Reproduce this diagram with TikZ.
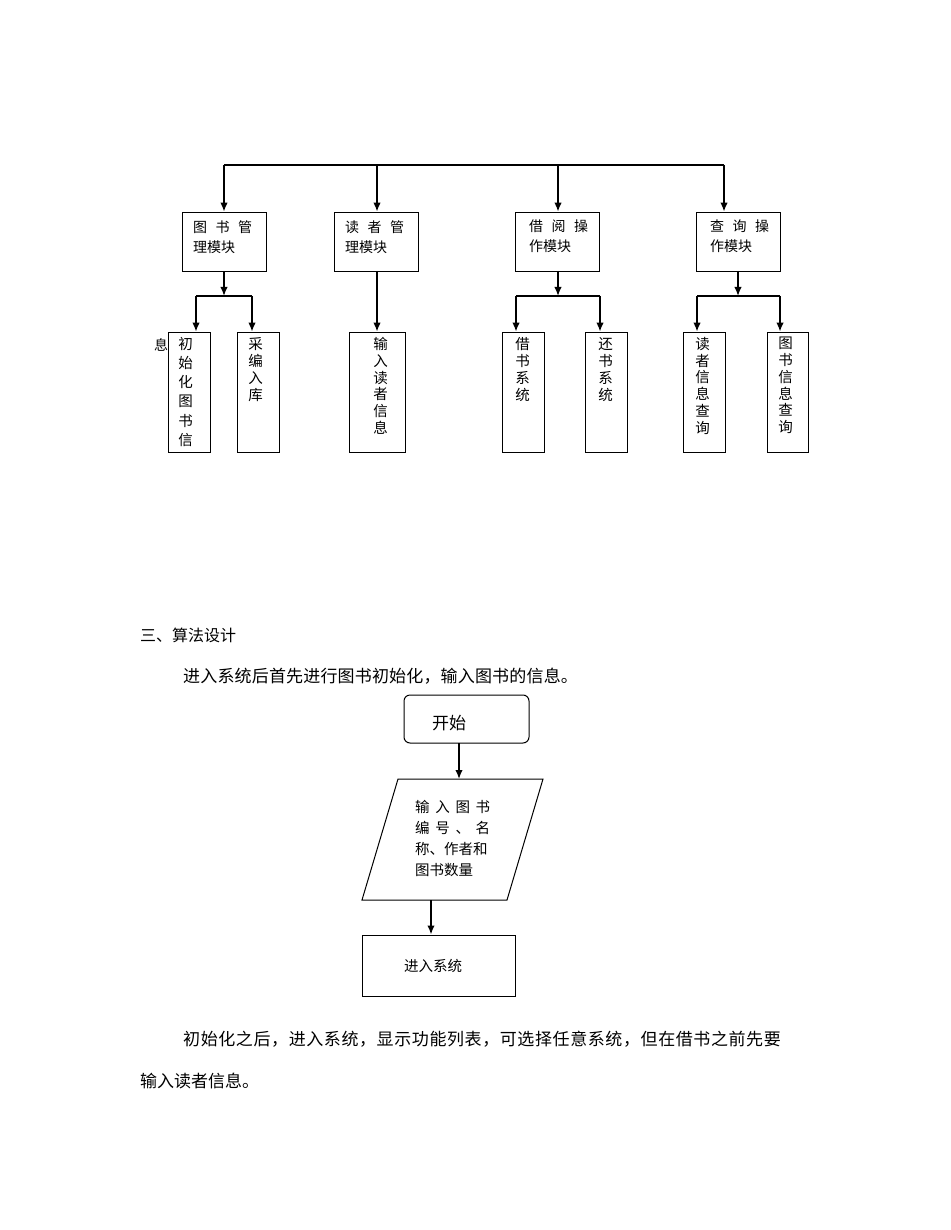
\documentclass[tikz,border=0pt]{standalone}
\usepackage{fontspec}
\setmainfont{Noto Sans CJK SC}
\usetikzlibrary{arrows.meta}
\begin{document}
\begin{tikzpicture}[x=1pt,y=-1pt,
  conn/.style={line width=1.6pt,-{Latex[length=9pt,width=7.5pt]}},
  bar/.style={line width=1.6pt},
  box/.style={draw,line width=0.8pt,inner sep=0pt},
  topbox/.style={box,minimum width=84pt,minimum height=59pt},
  leaf/.style={box,minimum width=42pt,minimum height=120pt},
  htxt/.style={inner sep=0pt,anchor=north west,align=left,font=\fontsize{14}{20}\selectfont},
  vtxt/.style={inner sep=0pt,anchor=north,align=center,font=\fontsize{14.5}{#1}\selectfont},
  para/.style={inner sep=0pt,anchor=west,font=\fontsize{17}{20}\selectfont},
  flow/.style={draw,line width=1pt,inner sep=0pt}]
\useasboundingbox (0,0) rectangle (950,1230);

% ---------- module tree ----------
\coordinate (barL) at (224,165);
\coordinate (barR) at (724,165);
\draw[bar] (barL) -- (barR);

\node[topbox] (m1) at (224,241.5) {};
\node[topbox] (m2) at (376.5,241.5) {};
\node[topbox] (m3) at (557.5,241.5) {};
\node[topbox] (m4) at (738.5,241.5) {};

\node[htxt] (t1) at (193,220) {\makebox[59pt][s]{图\hfill 书\hfill 管}\\理模块};
\node[htxt] (t2) at (345,220) {\makebox[59pt][s]{读\hfill 者\hfill 管}\\理模块};
\node[htxt] (t3) at (529,220) {\makebox[59pt][s]{借\hfill 阅\hfill 操}\\作模块};
\node[htxt] (t4) at (710,220) {\makebox[59pt][s]{查\hfill 询\hfill 操}\\作模块};

\coordinate (a2) at (377,165);
\coordinate (a3) at (558,165);
\draw[conn] (barL) -- (m1.north);
\draw[conn] (a2) -- (a2 |- m2.north);
\draw[conn] (a3) -- (a3 |- m3.north);
\draw[conn] (barR) -- (barR |- m4.north);

\node[leaf] (b1) at (189,392) {};
\node[leaf] (b2) at (258,392) {};
\node[leaf,minimum width=56pt] (b3) at (377,392) {};
\node[leaf] (b4) at (523,392) {};
\node[leaf] (b5) at (606,392) {};
\node[leaf] (b6) at (704,392) {};
\node[leaf,minimum width=41pt] (b7) at (787.5,392) {};

% junctions
\coordinate (j1) at (224,296);
\coordinate (j1l) at (196,296);
\coordinate (j1r) at (252,296);
\draw[conn] (m1.south) -- (j1);
\draw[bar] (j1l) -- (j1r);
\draw[conn] (j1l) -- (j1l |- b1.north);
\draw[conn] (j1r) -- (j1r |- b2.north);

\coordinate (s2) at (377,271);
\draw[conn] (s2) -- (s2 |- b3.north);

\coordinate (s3) at (558,271);
\coordinate (j3) at (558,296);
\coordinate (j3l) at (516,296);
\coordinate (j3r) at (600,296);
\draw[conn] (s3) -- (j3);
\draw[bar] (j3l) -- (j3r);
\draw[conn] (j3l) -- (j3l |- b4.north);
\draw[conn] (j3r) -- (j3r |- b5.north);

\coordinate (s4) at (738,271);
\coordinate (j4) at (738,296);
\coordinate (j4l) at (697,296);
\coordinate (j4r) at (780,296);
\draw[conn] (s4) -- (j4);
\draw[bar] (j4l) -- (j4r);
\draw[conn] (j4l) -- (j4l |- b6.north);
\draw[conn] (j4r) -- (j4r |- b7.north);

\node[vtxt=19.2] (v1) at (185.5,337) {初\\始\\化\\图\\书\\信};
\node[vtxt=17] (v2) at (255.5,337) {采\\编\\入\\库};
\node[vtxt=16.8] (v3) at (380.5,337) {输\\入\\读\\者\\信\\息};
\node[vtxt=17] (v4) at (522.5,337) {借\\书\\系\\统};
\node[vtxt=17] (v5) at (605.5,337) {还\\书\\系\\统};
\node[vtxt=16.8] (v6) at (702.5,337) {读\\者\\信\\息\\查\\询};
\node[vtxt=16.8] (v7) at (785.5,337) {图\\书\\信\\息\\查\\询};
\node[inner sep=0pt,font=\fontsize{14}{16}\selectfont] (xi) at (161,345) {息};

% ---------- text ----------
\node[para,font=\fontsize{16}{20}\selectfont] (h3) at (140,635) {三、算法设计};
\node[para] (p1) at (183,676) {\addfontfeature{LetterSpace=1}进入系统后首先进行图书初始化，输入图书的信息。};
\node[para] (p2) at (183,1039) {\addfontfeature{LetterSpace=3.5}初始化之后，进入系统，显示功能列表，可选择任意系统，但在借书之前先要};
\node[para] (p3) at (140,1081) {输入读者信息。};

% ---------- flow chart ----------
\node[flow,rounded corners=6pt,minimum width=125pt,minimum height=48pt] (start) at (466.5,719) {};
\node[inner sep=0pt,font=\fontsize{17}{20}\selectfont] (starttxt) at (449,723) {开始};

\coordinate (p1a) at (398,779);
\coordinate (p1b) at (543,779);
\coordinate (p1c) at (507,900);
\coordinate (p1d) at (362,900);
\draw[line width=1pt] (p1a) -- (p1b) -- (p1c) -- (p1d) -- cycle;
\node[inner sep=0pt,anchor=north west,align=left,font=\fontsize{14.5}{21}\selectfont] (intxt) at (415,800.5)
  {\makebox[75pt][s]{输\hfill 入\hfill 图\hfill 书}\\\makebox[75pt][s]{编\hfill 号\hfill 、\hfill 名}\\称、作者和\\图书数量};

\node[flow,minimum width=153pt,minimum height=61pt] (enter) at (438.5,965.5) {};
\node[inner sep=0pt,font=\fontsize{14.5}{18}\selectfont] (entertxt) at (433,966) {进入系统};

\coordinate (f1) at (459,743);
\coordinate (f2) at (459,779);
\coordinate (f3) at (431,900);
\draw[conn] (f1) -- (f2);
\draw[conn] (f3) -- (f3 |- enter.north);
\end{tikzpicture}
\end{document}
